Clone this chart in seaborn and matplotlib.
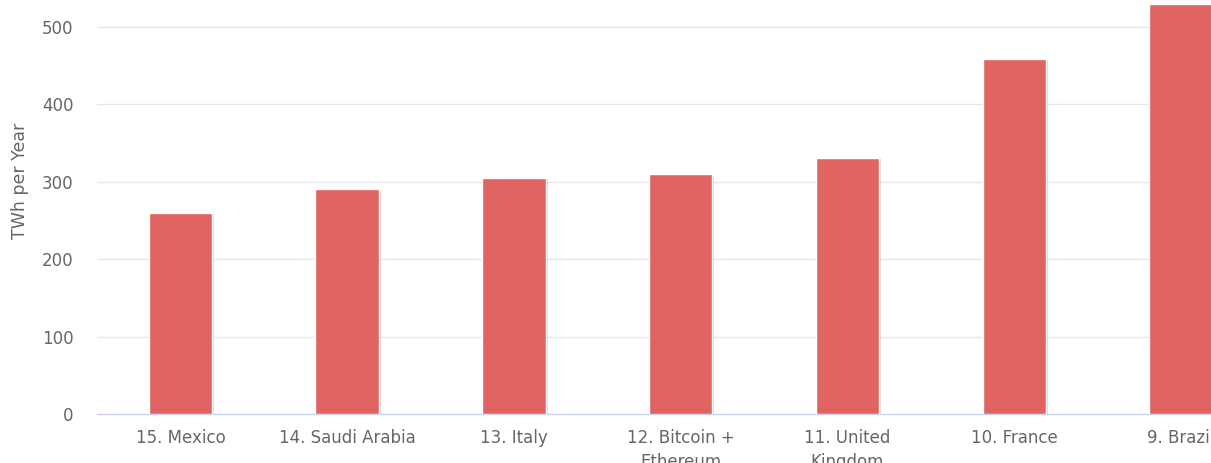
import numpy as np
import pandas as pd
import matplotlib
matplotlib.use("Agg")
import matplotlib.pyplot as plt
import matplotlib.patheffects as pe
import seaborn as sns

#chart data
countries = ["15. Mexico", "14. Saudi Arabia", "13. Italy", "12. Bitcoin +\nEthereum",
             "11. United\nKingdom", "10. France", "9. Brazil"]
twh_per_year = [260, 291, 305, 310, 331, 459, 530]
y_ticks = [0, 100, 200, 300, 400, 500]

df = pd.DataFrame({"country": countries, "twh": twh_per_year})

sns.set_style("white")
plt.rcParams['font.family'] = ['DejaVu Sans']

fig = plt.figure(figsize=(12.11, 4.63), dpi=100)
ax = fig.add_axes([97/1211, 49/463, 1 - 97/1211, 414/463])

sns.barplot(data=df, x="country", y="twh", color="#e06461", saturation=1,
            width=0.38, ax=ax, zorder=3)

#soft highcharts style shadow on the bars
for p in ax.patches:
    p.set_path_effects([pe.SimplePatchShadow(offset=(1.5, -1), shadow_rgbFace="#888888", alpha=0.35),
                        pe.Normal()])

#grid + axis look
ax.set_ylim(0, 535)
ax.set_xlim(-0.5, 6.18)
ax.set_yticks(y_ticks)
ax.yaxis.grid(True, color="#e6e6e6", linewidth=1, zorder=0)
ax.set_axisbelow(True)
for s in ["top", "right", "left"]:
    ax.spines[s].set_visible(False)
ax.spines["bottom"].set_color("#ccd6eb")
ax.spines["bottom"].set_linewidth(1)
ax.tick_params(axis="both", length=0, labelsize=12, labelcolor="#666666")
ax.tick_params(axis="x", pad=11)
ax.tick_params(axis="y", pad=17)
for lbl in ax.get_xticklabels():
    lbl.set_linespacing(1.4)
    lbl.set_verticalalignment("top")
ax.set_xlabel("")
ax.set_ylabel("TWh per Year", fontsize=12.5, color="#666666")
ax.yaxis.set_label_coords(-0.061, 0.563)

fig.savefig("out.png", dpi=100)
plt.close()
